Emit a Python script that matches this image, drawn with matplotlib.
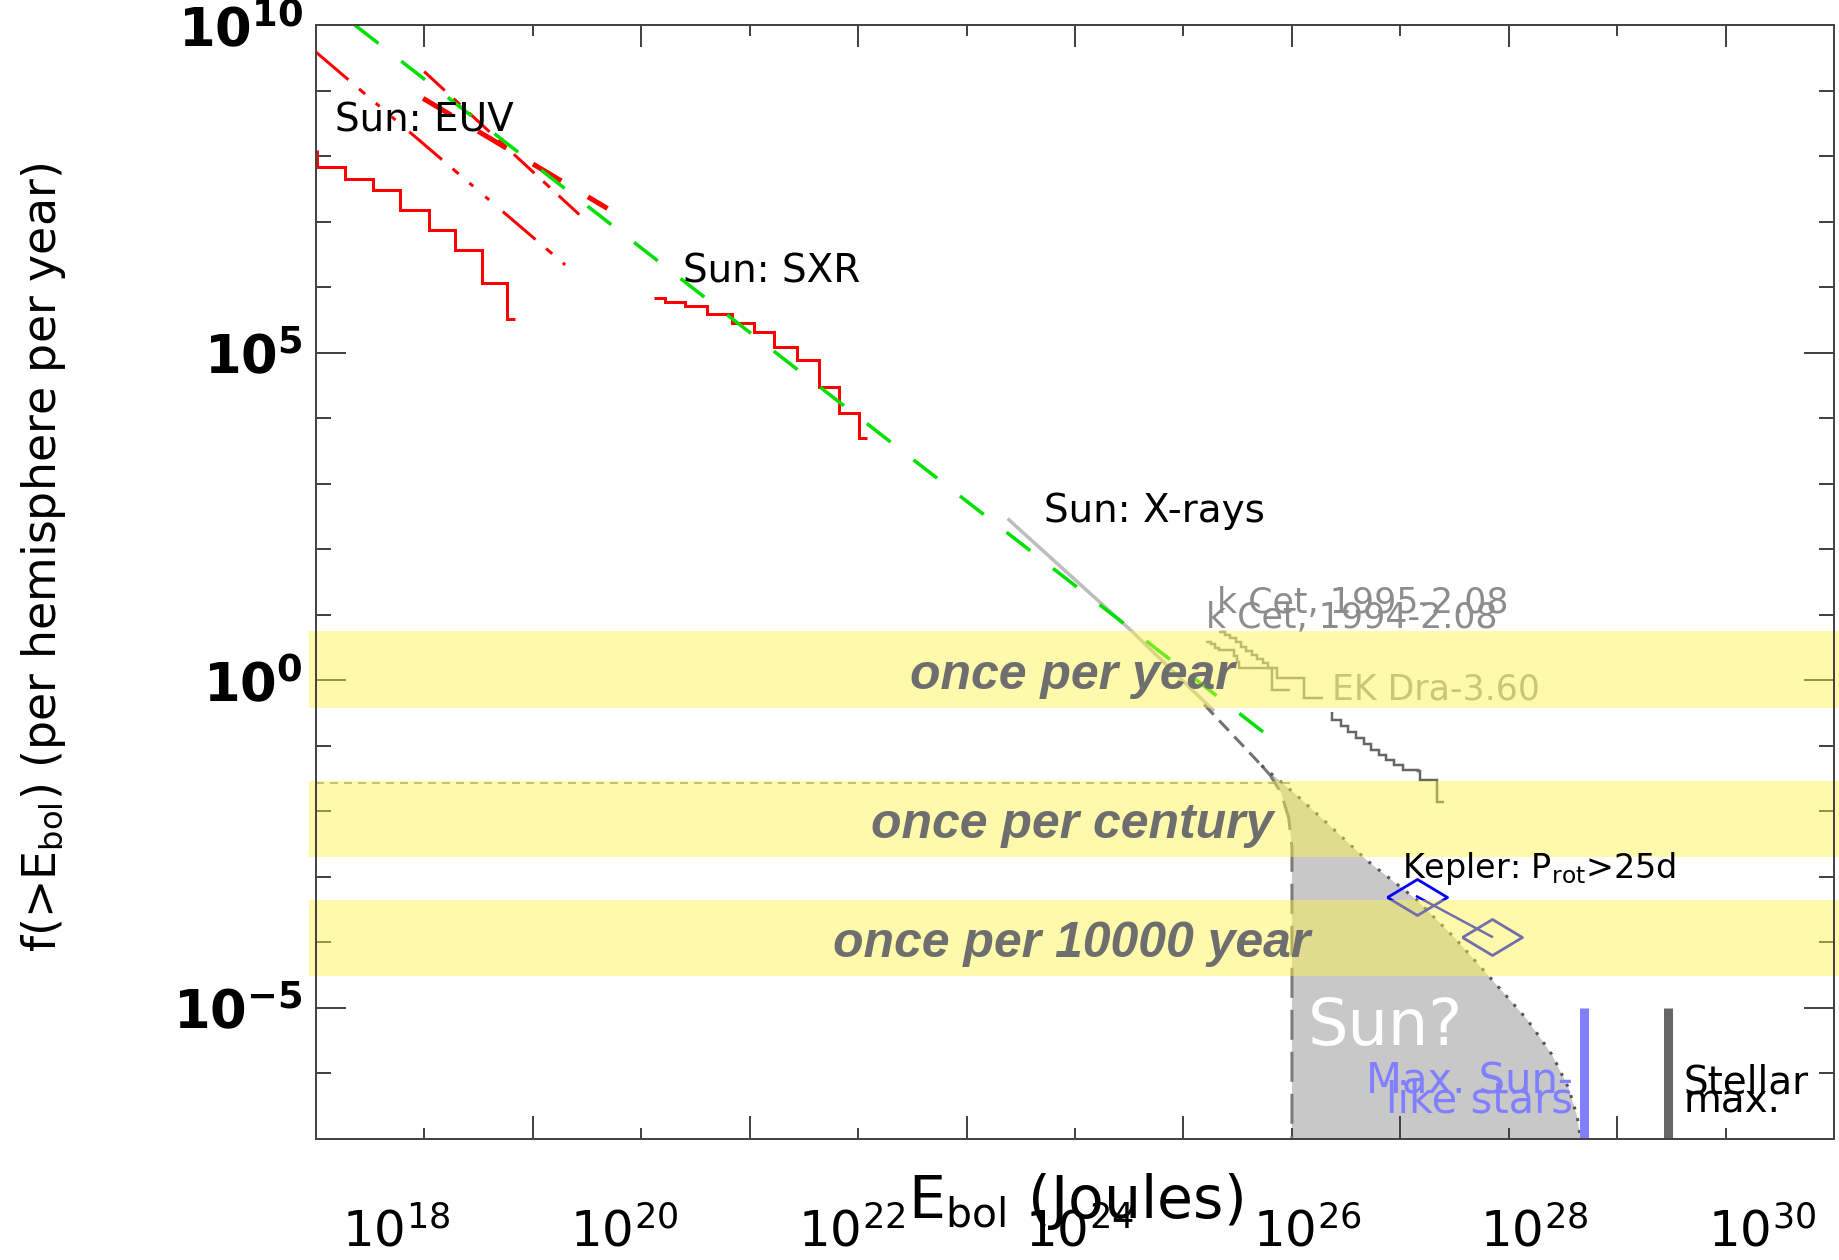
import numpy as np
import matplotlib
matplotlib.use("Agg")
import matplotlib.pyplot as plt
import matplotlib.transforms as mtransforms
from matplotlib.ticker import FixedLocator, NullFormatter, NullLocator

plt.rcParams["font.family"] = ["DejaVu Sans"]
plt.rcParams["mathtext.fontset"] = "dejavusans"
plt.rcParams["lines.scale_dashes"] = False

# ---------------- data (log10 values) ----------------
# axis ranges (log10)
x_range_log = [17.0, 31.0]
y_range_log = [-7.0, 10.0]

# Sun: EUV  - observed cumulative distribution (step)
euv_edges_log = [17.015, 17.015, 17.27, 17.53, 17.78, 18.04, 18.28, 18.53, 18.76, 18.84]
euv_levels_log = [8.10, 7.84, 7.65, 7.48, 7.18, 6.87, 6.57, 6.06, 5.52]

# Sun: EUV  - three power-law fits (red broken lines)
euv_fit_a_E = [17.00, 19.30]
euv_fit_a_f = [9.59, 6.34]
euv_fit_b_E = [18.00, 19.48]
euv_fit_b_f = [9.29, 7.03]
euv_fit_c_E = [17.99, 19.69]
euv_fit_c_f = [8.88, 7.20]

# Sun: SXR - observed cumulative distribution (step)
sxr_edges_log = [20.121, 20.216, 20.402, 20.609, 20.836, 21.042, 21.228,
                 21.435, 21.641, 21.827, 22.012, 22.086]
sxr_levels_log = [5.829, 5.777, 5.712, 5.585, 5.457, 5.320, 5.091,
                  4.888, 4.480, 4.083, 3.702]

# overall power law (green dashed)
pl_E = [17.36, 25.86]
pl_f = [10.0, -0.95]

# Sun: X-rays (light grey) and its extrapolation (dark grey dashed)
xray_E = [23.39, 24.51, 25.27]
xray_f = [2.45, 0.77, -0.45]
xray_ext_E = [25.19, 25.72]
xray_ext_f = [-0.37, -1.30]

# "Sun?" region
sun_right_E = [25.72, 26.02, 26.35, 26.70, 27.15, 27.50, 27.85, 28.17, 28.40, 28.55, 28.63, 28.66]
sun_right_f = [-1.30, -1.72, -2.22, -2.76, -3.35, -3.93, -4.58, -5.18, -5.72, -6.22, -6.66, -7.00]
sun_left_E = [25.72, 25.80, 25.90, 25.97, 26.00, 26.00]
sun_left_f = [-1.30, -1.45, -1.72, -2.10, -2.55, -7.00]

# horizontal dotted reference level
ref_level_E = [17.0, 26.0]
ref_level_f = -1.57

# stellar distributions (steps)
kcet95_edges = [25.33, 25.38, 25.43, 25.48, 25.53, 25.58, 25.63, 25.68, 25.73, 25.78, 25.86, 26.11, 26.29]
kcet95_levels = [0.74, 0.69, 0.64, 0.58, 0.51, 0.45, 0.39, 0.33, 0.26, 0.18, 0.03, -0.275]
kcet94_edges = [25.21, 25.25, 25.29, 25.33, 25.47, 25.49, 25.51, 25.82, 25.98]
kcet94_levels = [0.59, 0.55, 0.50, 0.46, 0.37, 0.28, 0.18, -0.15]
ekdra_edges = [26.37, 26.37, 26.45, 26.52, 26.59, 26.66, 26.73, 26.80, 26.87,
               26.94, 27.02, 27.16, 27.18, 27.34, 27.40]
ekdra_levels = [-0.48, -0.61, -0.70, -0.79, -0.88, -0.97, -1.06, -1.14, -1.22,
                -1.30, -1.37, -1.39, -1.52, -1.85]

# Kepler, P_rot > 25 d
kepler_E = [27.153, 27.843]
kepler_f = [-3.30, -3.913]

# maximum energies
max_sunlike_E = 28.69
max_stellar_E = 29.47
max_top_f = -5.0

# frequency bands
band_labels = ["once per year", "once per century", "once per 10000 year"]
band_top = [0.75, -1.53, -3.35]
band_bottom = [-0.42, -2.70, -4.51]

# tick labels
y_major_exp = [-5, 0, 5, 10]
x_label_exp = [18, 20, 22, 24, 26, 28, 30]
x_label_axis_log = [17.293, 30.633]   # range over which the pasted labels are spread


def p(v):
    return 10.0 ** np.asarray(v, dtype=float)


# ---------------- figure ----------------
fig = plt.figure(figsize=(18.4, 12.6), dpi=100)
ax = fig.add_axes([0.17158, 0.09603, 0.82532, 0.88413])
ax.set_xscale("log")
ax.set_yscale("log")
ax.set_xlim(p(x_range_log[0]), p(x_range_log[1]))
ax.set_ylim(p(y_range_log[0]), p(y_range_log[1]))

PT = 1 / 1.389  # px -> pt at 100 dpi

# Sun? region
fx = np.concatenate([p(sun_left_E), p(sun_right_E)[::-1]])
fy = np.concatenate([p(sun_left_f), p(sun_right_f)[::-1]])
ax.fill(fx, fy, color="#c8c8c8", lw=0, zorder=1)
ax.plot(p(sun_left_E), p(sun_left_f), color="#7a7a7a", lw=3 * PT,
        ls=(0, (30 * PT, 12 * PT)), zorder=2)
ax.plot(p(sun_right_E), p(sun_right_f), color="#555555", lw=3 * PT,
        ls=(0, (3 * PT, 9 * PT)), zorder=2)

# reference level
ax.plot(p(ref_level_E), p([ref_level_f, ref_level_f]), color="#9a9a9a", lw=2 * PT,
        ls=(0, (8 * PT, 6 * PT)), zorder=1.5)

# red EUV fits
ax.plot(p(euv_fit_a_E), p(euv_fit_a_f), color="red", lw=3 * PT,
        ls=(0, (43 * PT, 14 * PT, 8 * PT, 14 * PT, 5 * PT, 16 * PT, 5 * PT, 18 * PT)), zorder=2)
ax.plot(p(euv_fit_b_E), p(euv_fit_b_f), color="red", lw=3 * PT,
        ls=(0, (28 * PT, 12 * PT, 9 * PT, 12 * PT)), zorder=2)
ax.plot(p(euv_fit_c_E), p(euv_fit_c_f), color="red", lw=5 * PT,
        ls=(0, (33 * PT, 31 * PT)), zorder=2)

# observed solar steps
ax.stairs(p(euv_levels_log), p(euv_edges_log), baseline=None, color="red", lw=3 * PT, zorder=2)
ax.stairs(p(sxr_levels_log), p(sxr_edges_log), baseline=None, color="red", lw=3 * PT, zorder=2)

# green power law
ax.plot(p(pl_E), p(pl_f), color="#00e000", lw=3.5 * PT,
        ls=(0, (30 * PT, 29 * PT)), zorder=2.2)

# X-rays
ax.plot(p(xray_E), p(xray_f), color="#bdbdbd", lw=3.5 * PT, zorder=2.1)
ax.plot(p(xray_ext_E), p(xray_ext_f), color="#707070", lw=3 * PT,
        ls=(0, (14 * PT, 8 * PT)), zorder=2.1)

# stellar steps
ax.stairs(p(kcet95_levels), p(kcet95_edges), baseline=None, color="#8c8c8c", lw=2.5 * PT, zorder=2)
ax.stairs(p(kcet94_levels), p(kcet94_edges), baseline=None, color="#8c8c8c", lw=2.5 * PT, zorder=2)
ax.stairs(p(ekdra_levels), p(ekdra_edges), baseline=None, color="#666666", lw=2.5 * PT, zorder=2)

# Kepler
diamond = [(-1, 0), (0, 0.6), (1, 0), (0, -0.6), (-1, 0)]
ax.plot(p(kepler_E), p(kepler_f), color="blue", lw=2.5 * PT, marker=diamond,
        ms=60 * PT, mfc="none", mec="blue", mew=2.8 * PT, zorder=3)

# maximum energy bars
ax.plot(p([max_sunlike_E, max_sunlike_E]), p([max_top_f, y_range_log[0]]),
        color="#8080ff", lw=9 * PT, solid_capstyle="butt", zorder=2)
ax.plot(p([max_stellar_E, max_stellar_E]), p([max_top_f, y_range_log[0]]),
        color="#666666", lw=9 * PT, solid_capstyle="butt", zorder=2)

# bands (overlay, slightly wider than the axes)
btrans = mtransforms.blended_transform_factory(ax.transAxes, ax.transData)
for lab, t, b in zip(band_labels, band_top, band_bottom):
    ax.fill_between([-0.0047, 1.0037], [p(b)] * 2, [p(t)] * 2, transform=btrans,
                    color=(1.0, 0.96, 0.27), alpha=0.45, lw=0, zorder=4, clip_on=False)
    ax.text(0.498, p((t + b) / 2 - 0.1), lab, transform=btrans, ha="center", va="center",
            family=["Liberation Sans", "DejaVu Sans"], fontsize=36, fontweight="bold",
            fontstyle="italic", color="#6e6e6e", zorder=5)

# annotations
ax.text(p(17.178), p(8.372), "Sun: EUV", fontsize=28, ha="left", va="baseline", zorder=6)
ax.text(p(20.389), p(6.078), "Sun: SXR", fontsize=28, ha="left", va="baseline", zorder=6)
ax.text(p(23.715), p(2.416), "Sun: X-rays", fontsize=28, ha="left", va="baseline", zorder=6)
ax.text(p(25.308), p(1.027), "k Cet, 1995-2.08", fontsize=25, color="#8c8c8c",
        ha="left", va="baseline", zorder=3)
ax.text(p(25.207), p(0.798), "k Cet, 1994-2.08", fontsize=25, color="#8c8c8c",
        ha="left", va="baseline", zorder=3)
ax.text(p(26.367), p(-0.30), "EK Dra-3.60", fontsize=25, color="#a0a0a0",
        ha="left", va="baseline", zorder=3)
ax.text(p(27.013), p(-3.017), r"Kepler: P$_{\rm rot}$>25d", fontsize=24,
        ha="left", va="baseline", zorder=6)
ax.text(p(26.146), p(-5.565), "Sun?", fontsize=46, color="white",
        ha="left", va="baseline", zorder=6)
ax.text(p(28.587), p(-6.30), "Max. Sun-", fontsize=30, color="#8080ff",
        ha="right", va="baseline", zorder=6)
ax.text(p(28.587), p(-6.60), "like stars", fontsize=30, color="#8080ff",
        ha="right", va="baseline", zorder=6)
ax.text(p(29.608), p(-6.30), "Stellar", fontsize=28, color="black",
        ha="left", va="baseline", zorder=6)
ax.text(p(29.608), p(-6.60), "max.", fontsize=28, color="black",
        ha="left", va="baseline", zorder=6)

# ---------------- axes styling ----------------
spine_c = "#444444"
for s in ax.spines.values():
    s.set_color(spine_c)
    s.set_linewidth(2 * PT)
    s.set_zorder(7)

# y axis
ax.yaxis.set_ticks_position("both")
ax.yaxis.set_major_locator(FixedLocator(p(y_major_exp)))
ax.yaxis.set_minor_locator(FixedLocator(p(np.arange(y_range_log[0], y_range_log[1] + 1))))
ax.yaxis.set_minor_formatter(NullFormatter())
ax.set_yticks(p(y_major_exp), [r"$\mathdefault{10^{%d}}$" % e for e in y_major_exp],
              fontsize=38, fontweight="bold")
ax.tick_params(axis="y", which="major", direction="in", length=30 * PT, width=2 * PT,
               color=spine_c, pad=9, left=True, right=True, labelright=False)
ax.tick_params(axis="y", which="minor", direction="in", length=15 * PT, width=2 * PT,
               color=spine_c, left=True, right=True)

# bottom x ticks (no labels)
ax.xaxis.set_major_locator(FixedLocator(p(np.arange(17, 32, 2))))
ax.xaxis.set_minor_locator(FixedLocator(p(np.arange(18, 31, 2))))
ax.xaxis.set_major_formatter(NullFormatter())
ax.xaxis.set_minor_formatter(NullFormatter())
ax.tick_params(axis="x", which="major", direction="in", length=23 * PT, width=2 * PT,
               color=spine_c, bottom=True, top=False)
ax.tick_params(axis="x", which="minor", direction="in", length=11 * PT, width=2 * PT,
               color=spine_c, bottom=True, top=False)

# top x ticks
sec = ax.secondary_xaxis("top")
sec.xaxis.set_major_locator(FixedLocator(p(np.arange(18, 31, 2))))
sec.xaxis.set_minor_locator(FixedLocator(p(np.arange(17, 32, 2))))
sec.xaxis.set_major_formatter(NullFormatter())
sec.xaxis.set_minor_formatter(NullFormatter())
sec.tick_params(axis="x", which="major", direction="in", length=22 * PT, width=2 * PT, color=spine_c)
sec.tick_params(axis="x", which="minor", direction="in", length=11 * PT, width=2 * PT, color=spine_c)
for s in sec.spines.values():
    s.set_color(spine_c)
    s.set_linewidth(2 * PT)

# x tick labels (spread as in the reference)
ax2 = ax.twiny()
ax2.set_xscale("log")
ax2.set_xlim(p(x_label_axis_log[0]), p(x_label_axis_log[1]))
ax2.xaxis.set_ticks_position("bottom")
ax2.set_xticks(p(x_label_exp), [r"$\mathdefault{10^{%d}}$" % e for e in x_label_exp])
ax2.xaxis.set_minor_locator(NullLocator())
ax2.tick_params(axis="x", which="both", length=0, pad=49, labelsize=36)
ax2.yaxis.set_visible(False)
for s in ax2.spines.values():
    s.set_visible(False)
# main axis ticks go back to bottom only (twiny moves them)
ax.tick_params(axis="x", which="both", bottom=True, top=False)

# axis titles
fig.text(44 / 1840, 1 - 557 / 1260, r"f(>E$_{\mathrm{bol}}$) (per hemisphere per year)",
         rotation=90, ha="center", va="center", fontsize=33)
fig.text(1075 / 1840, 1 - 1202 / 1260, r"E$_{\mathrm{bol}}$ (Joules)",
         ha="center", va="center", fontsize=42)

fig.savefig("out.png", dpi=100)
